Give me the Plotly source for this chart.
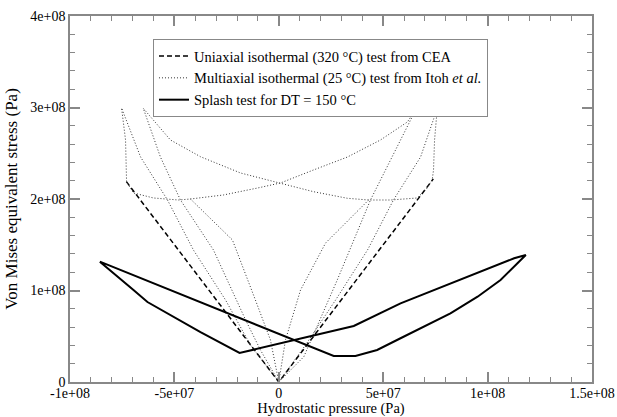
import plotly.graph_objects as go

# ---- data (Pa) ----
uni_x = [-7.3e7, 0.0, 7.4e7]
uni_y = [2.19e8, 0.0, 2.22e8]

# multiaxial dotted paths
m1_x = [0, -13.6e6, -25.5e6, -40.9e6, -53.3e6, -66.2e6, -75.3e6, -73.4e6, -72.9e6, -69.6e6, -60.0e6,
        -48.0e6, -42.3e6, -26.5e6, -10.2e6, 0.8e6, 16.6e6, 32.9e6, 48.7e6, 61.6e6, 66.0e6,
        43.9e6, 28.0e6, 12.0e6, 0]
m1_y = [0, 40.4e6, 89.6e6, 144.3e6, 198.9e6, 245.9e6, 299.5e6, 264.5e6, 218.6e6, 206.6e6, 201.1e6,
        198.9e6, 200.0e6, 204.4e6, 212.0e6, 217.5e6, 231.7e6, 245.9e6, 264.5e6, 284.2e6, 299.5e6,
        198.9e6, 111.5e6, 27.7e6, 0]
m2_x = [0, 12.8e6, 27.2e6, 42.5e6, 54.9e6, 67.9e6, 75.9e6, 74.6e6, 74.1e6, 73.5e6, 71.1e6, 66.3e6,
        53.5e6, 43.0e6, 32.8e6, 16.6e6, 0.8e6, -18.3e6, -37.5e6, -51.9e6, -64.9e6,
        -56.7e6, -47.1e6, -31.3e6, -15.9e6, -8.8e6, 0]
m2_y = [0, 40.4e6, 89.6e6, 144.3e6, 198.9e6, 245.9e6, 299.1e6, 264.5e6, 231.7e6, 221.5e6, 212.0e6, 201.1e6,
        198.9e6, 198.9e6, 200.8e6, 208.0e6, 217.2e6, 228.4e6, 246.2e6, 264.5e6, 299.1e6,
        245.9e6, 198.9e6, 144.3e6, 67.8e6, 35.0e6, 0]
m3_x = [-42.3e6, -22.2e6, -11.2e6, -4.0e6, 0]
m3_y = [200.0e6, 155.2e6, 89.6e6, 45.9e6, 0]
m4_x = [43.0e6, 22.4e6, 10.4e6, 3.2e6, 0]
m4_y = [198.9e6, 151.9e6, 100.5e6, 45.9e6, 0]

splash_x = [-85.7e6, 7.2e6, 26.3e6, 36.7e6, 47.1e6, 58.3e6, 66.4e6, 82.2e6, 95.2e6, 106.2e6, 114.3e6, 118.3e6,
            112.7e6, 98.4e6, 82.4e6, 66.4e6, 58.3e6, 35.9e6, -18.8e6, -37.5e6, -53.3e6, -62.9e6,
            -69.6e6, -75.8e6, -80.6e6, -85.7e6]
splash_y = [131.5e6, 45.9e6, 28.4e6, 28.4e6, 35.0e6, 47.8e6, 56.8e6, 75.1e6, 93.2e6, 111.5e6, 129.7e6, 138.8e6,
            135.2e6, 122.4e6, 107.9e6, 93.2e6, 86.0e6, 61.2e6, 31.7e6, 54.6e6, 75.4e6, 87.4e6,
            100.5e6, 112.6e6, 122.4e6, 131.5e6]

x_ticks = [-1e8, -5e7, 0, 5e7, 1e8, 1.5e8]
x_tick_labels = ["-1e+08", "-5e+07", "0", "5e+07", "1e+08", "1.5e+08"]
y_ticks = [0, 1e8, 2e8, 3e8, 4e8]
y_tick_labels = ["0", "1e+08", "2e+08", "3e+08", "4e+08"]

FONT = "Liberation Serif"
dot_style = dict(color="#333333", width=1, dash="1px,2px")

fig = go.Figure()
fig.add_trace(go.Scatter(x=uni_x, y=uni_y, mode="lines",
                         line=dict(color="black", width=1.5, dash="5px,3px"),
                         name="Uniaxial isothermal (320 °C) test from CEA"))
fig.add_trace(go.Scatter(x=m1_x, y=m1_y, mode="lines", line=dot_style,
                         name="Multiaxial isothermal (25 °C) test from Itoh <i>et al.</i>"))
for xs, ys in [(m2_x, m2_y), (m3_x, m3_y), (m4_x, m4_y)]:
    fig.add_trace(go.Scatter(x=xs, y=ys, mode="lines", line=dot_style, showlegend=False))
fig.add_trace(go.Scatter(x=splash_x, y=splash_y, mode="lines",
                         line=dict(color="black", width=2),
                         name="Splash test for DT = 150 °C"))

axis_common = dict(showgrid=False, zeroline=False, showline=True, linecolor="#888888", linewidth=1.5,
                   mirror="ticks", ticks="inside", ticklen=10, tickwidth=1.5, tickcolor="#888888",
                   automargin=False,
                   tickfont=dict(family=FONT, size=14, color="black"))

fig.update_xaxes(range=[-1e8, 1.5e8], tickvals=x_ticks, ticktext=x_tick_labels,
                 minor=dict(dtick=1e7, ticks="inside", ticklen=5, tickwidth=1, tickcolor="#888888"),
                 ticklabelstandoff=-3,
                 title=dict(text="Hydrostatic pressure (Pa)", standoff=0,
                            font=dict(family=FONT, size=14.5, color="black")),
                 **axis_common)
fig.update_yaxes(range=[0, 4e8], tickvals=y_ticks, ticktext=y_tick_labels,
                 minor=dict(dtick=2e7, ticks="inside", ticklen=5, tickwidth=1, tickcolor="#888888"),
                 title=dict(text="Von Mises equivalent stress (Pa)", standoff=8,
                            font=dict(family=FONT, size=17, color="black")),
                 **axis_common)

fig.update_layout(width=617, height=417, margin=dict(l=70, r=25, t=16, b=35),
                  plot_bgcolor="white", paper_bgcolor="white",
                  font=dict(family=FONT, size=14.5, color="black"),
                  legend=dict(x=0.159, y=0.937, xanchor="left", yanchor="top",
                              bgcolor="white", bordercolor="#888888", borderwidth=1,
                              font=dict(family=FONT, size=14.5), tracegroupgap=0,
                              itemwidth=30))

fig.write_html("out.html", config={"displayModeBar": False},
               post_script="document.body.style.margin='0px';document.body.style.overflow='hidden';")
